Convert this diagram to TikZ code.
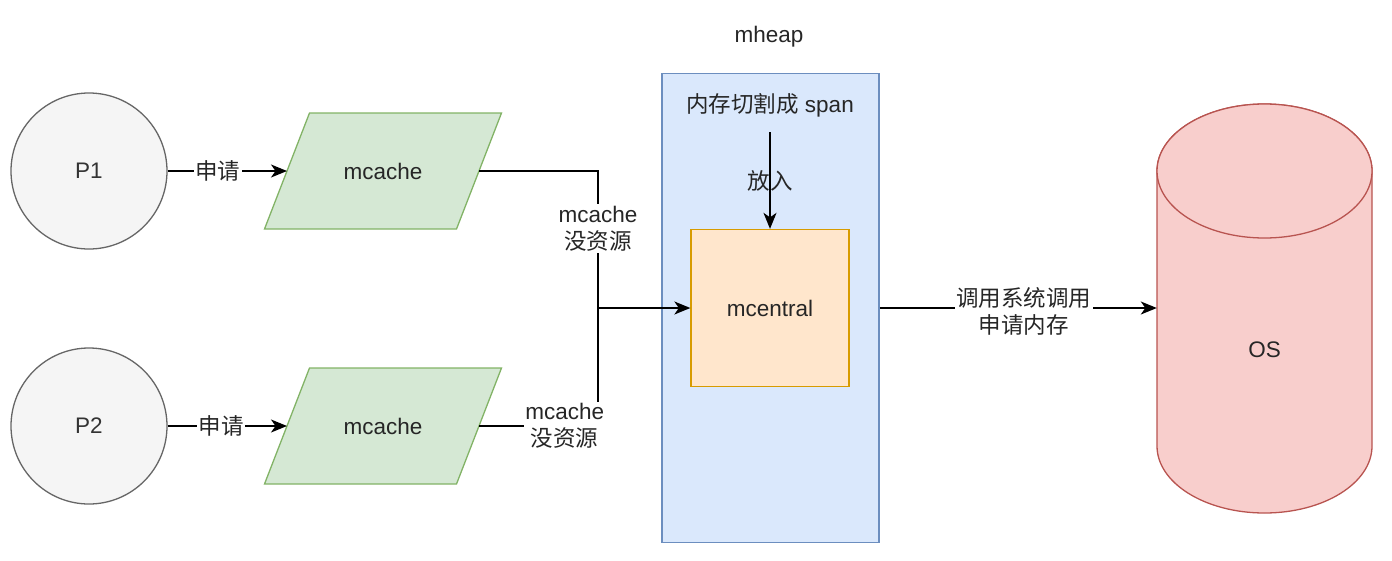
\documentclass[tikz,border=0pt]{standalone}
\usepackage{fontspec}
\setmainfont{Liberation Sans}
\newfontfamily\cjk{Noto Sans CJK SC}
\usetikzlibrary{arrows.meta}
\definecolor{pfill}{HTML}{F5F5F5}
\definecolor{pdraw}{HTML}{666666}
\definecolor{ptxt}{HTML}{333333}
\definecolor{gfill}{HTML}{D5E8D4}
\definecolor{gdraw}{HTML}{82B366}
\definecolor{bfill}{HTML}{DAE8FC}
\definecolor{bdraw}{HTML}{6C8EBF}
\definecolor{ofill}{HTML}{FFE6CC}
\definecolor{odraw}{HTML}{D79B00}
\definecolor{rfill}{HTML}{F8CECC}
\definecolor{rdraw}{HTML}{B85450}
\definecolor{txt}{HTML}{262626}
\begin{document}
\begin{tikzpicture}[x=1pt,y=-1pt,
  every node/.style={font=\fontsize{22.5}{27}\selectfont, text=txt},
  proc/.style={circle, draw=pdraw, fill=pfill, line width=1.3pt, minimum size=156pt, inner sep=0pt, text=ptxt},
  mcshape/.style={draw=gdraw, fill=gfill, line width=1.3pt, line join=miter},
  mclabel/.style={rectangle, draw=none, minimum width=150pt, minimum height=60pt, inner sep=0pt},
  heapbox/.style={rectangle, draw=bdraw, fill=bfill, line width=1.5pt, minimum width=217pt, minimum height=469pt, inner sep=0pt},
  centralbox/.style={rectangle, draw=odraw, fill=ofill, line width=1.3pt, minimum width=158pt, minimum height=157pt, inner sep=0pt},
  osbox/.style={rectangle, draw=none, minimum width=215pt, minimum height=326pt, inner sep=0pt},
  cylshape/.style={draw=rdraw, fill=rfill, line width=1.3pt},
  line/.style={draw=black, line width=1.5pt},
  conn/.style={line, -{Stealth[length=16pt,width=13pt,inset=4.5pt]}},
  lbl/.style={fill=white, inner sep=1.5pt, align=center},
  plain/.style={inner sep=1pt, align=center}
]
\useasboundingbox (0,0) rectangle (1392,560);

% processes
\node[proc] (p1) at (89,171) {P1};
\node[proc] (p2) at (89,426) {P2};

% mcache parallelograms
\coordinate (c1) at (383,171);
\coordinate (c2) at (383,426);
\draw[mcshape] ([shift={(-118.5,58)}]c1) -- ([shift={(-73.5,-58)}]c1) -- ([shift={(118.5,-58)}]c1) -- ([shift={(73.5,58)}]c1) -- cycle;
\draw[mcshape] ([shift={(-118.5,58)}]c2) -- ([shift={(-73.5,-58)}]c2) -- ([shift={(118.5,-58)}]c2) -- ([shift={(73.5,58)}]c2) -- cycle;
\node[mclabel] (mc1) at (c1) {mcache};
\node[mclabel] (mc2) at (c2) {mcache};
\coordinate (mc1L) at ([xshift=-96pt]c1);
\coordinate (mc1R) at ([xshift=96pt]c1);
\coordinate (mc2L) at ([xshift=-96pt]c2);
\coordinate (mc2R) at ([xshift=96pt]c2);

% mheap
\node (mheaplbl) at (769,37) {mheap};
\node[heapbox] (mheap) at (770.5,308) {};
\node[plain, minimum height=54pt] (split) at (770,105) {{\cjk 内存切割成} span};
\node[centralbox] (mc) at (770,308) {mcentral};

% OS cylinder
\draw[cylshape] (1157,171) -- (1157,446) arc[start angle=180, end angle=0, x radius=107.5, y radius=67]
  -- (1372,171) arc[start angle=0, end angle=-180, x radius=107.5, y radius=67] -- cycle;
\draw[cylshape] (1264.5,171) ellipse[x radius=107.5, y radius=67];
\node[osbox] (os) at (1264.5,350) {OS};

% junction
\coordinate (j) at (598,308);

% connectors
\draw[conn] (p1) -- node[lbl, pos=0.42]{\cjk 申请} (mc1L);
\draw[conn] (p2) -- node[lbl, pos=0.45]{\cjk 申请} (mc2L);
\draw[line] (mc1R) -| node[lbl, pos=0.71]{mcache\\{\cjk 没资源}} (j);
\draw[line] (mc2R) -| node[lbl, pos=0.36]{mcache\\{\cjk 没资源}} (j);
\draw[conn] (j) -- (mc);
\draw[conn] (split.south) -- node[plain]{\cjk 放入} (mc.north);
\draw[conn] (mheap.east) -- node[lbl, pos=0.52, yshift=-3pt]{{\cjk 调用系统调用}\\{\cjk 申请内存}} (os.west |- mheap.east);
\end{tikzpicture}
\end{document}
